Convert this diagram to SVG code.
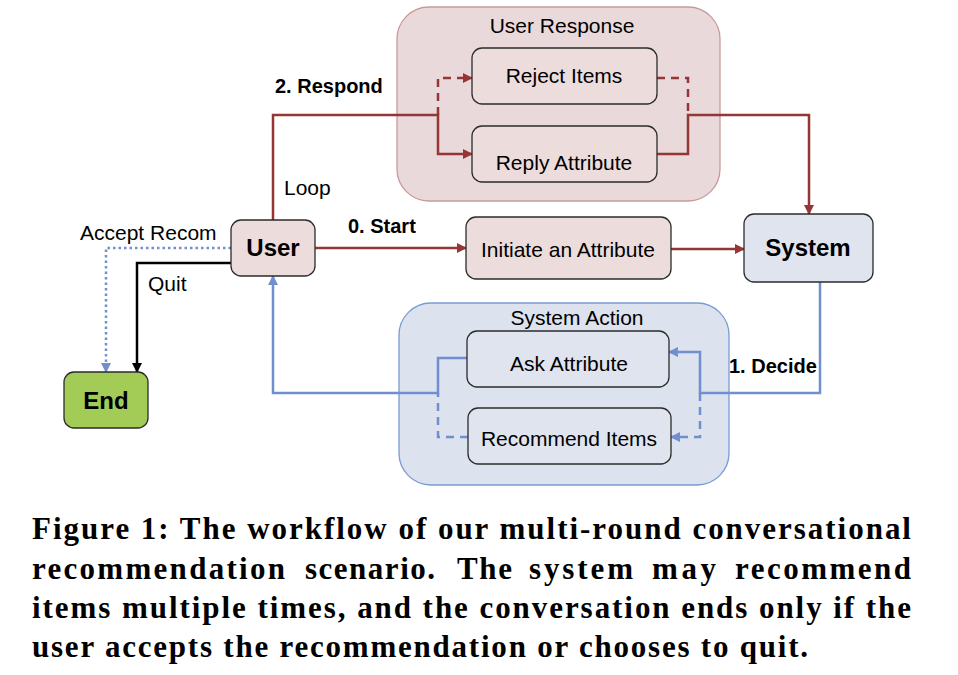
<svg xmlns="http://www.w3.org/2000/svg" width="958" height="675" viewBox="0 0 958 675">
<style>
.t{font-family:"Liberation Sans",Arial,sans-serif;font-size:21px;fill:#000}
.b{font-family:"Liberation Sans",Arial,sans-serif;font-weight:bold;fill:#000}
.cap{font-family:"Liberation Serif","Times New Roman",serif;font-weight:bold;font-size:31px;fill:#000}
.rn{fill:#ecdcdc;stroke:#2b2b2b;stroke-width:1.3}
.bn{fill:#dfe4ef;stroke:#2b2b2b;stroke-width:1.3}
.m{fill:none;stroke:#943634;stroke-width:2.5}
.bl{fill:none;stroke:#6f8fcf;stroke-width:2.5}
.dash{stroke-dasharray:8,6}
</style>
<defs>
<marker id="am" markerUnits="userSpaceOnUse" markerWidth="10" markerHeight="10" refX="9" refY="5" orient="auto"><path d="M0,0 L10,5 L0,10 Z" fill="#943634"/></marker>
<marker id="ab" markerUnits="userSpaceOnUse" markerWidth="10" markerHeight="10" refX="9" refY="5" orient="auto"><path d="M0,0 L10,5 L0,10 Z" fill="#6f8fcf"/></marker>
<marker id="ak" markerUnits="userSpaceOnUse" markerWidth="10" markerHeight="10" refX="9" refY="5" orient="auto"><path d="M0,0 L10,5 L0,10 Z" fill="#000"/></marker>
</defs>
<rect width="958" height="675" fill="#fff"/>

<g id="user-response">
<rect x="397" y="7" width="323" height="194" rx="32" fill="#ead9da" stroke="#c99a9a" stroke-width="1.3"/>
<text class="t" x="562" y="33" text-anchor="middle">User Response</text>
</g>
<g id="system-action">
<rect x="399" y="303" width="330" height="182" rx="32" fill="#dce2ee" stroke="#7a9bd4" stroke-width="1.3"/>
<text class="t" x="577" y="325" text-anchor="middle">System Action</text>
</g>

<g id="connectors">
<path class="m" d="M315,248 H466" marker-end="url(#am)"/>
<path class="m" d="M671,249 H744" marker-end="url(#am)"/>
<path class="m" d="M273,220 V115 H438 V154 H472" marker-end="url(#am)"/>
<path class="m dash" d="M438,115 V78 H472" marker-end="url(#am)"/>
<path class="m dash" d="M657,78 H688 V115"/>
<path class="m" d="M657,154 H688 V115 H809 V214" marker-end="url(#am)"/>
<path class="bl" d="M820,282 V393 H700 V352 H669" marker-end="url(#ab)"/>
<path class="bl dash" d="M700,393 V437 H671" marker-end="url(#ab)"/>
<path class="bl" d="M467,358 H438 V393 H273 V276" marker-end="url(#ab)"/>
<path class="bl dash" d="M468,437 H438 V393"/>
<path fill="none" stroke="#6f8fcf" stroke-width="2.5" stroke-dasharray="2.5,3" d="M231,248 H106 V372" marker-end="url(#ab)"/>
<path fill="none" stroke="#000" stroke-width="2.5" d="M231,263 H137 V372" marker-end="url(#ak)"/>
</g>

<g id="reject-items">
<rect class="rn" x="472" y="48" width="185" height="56" rx="10"/>
<text class="t" x="564" y="83" text-anchor="middle">Reject Items</text>
</g>
<g id="reply-attribute">
<rect class="rn" x="472" y="126" width="185" height="56" rx="10"/>
<text class="t" x="564" y="170" text-anchor="middle">Reply Attribute</text>
</g>
<g id="user">
<rect class="rn" x="231" y="220" width="84" height="56" rx="10"/>
<text class="b" x="273" y="256" font-size="24" text-anchor="middle">User</text>
</g>
<g id="initiate">
<rect class="rn" x="466" y="217" width="205" height="62" rx="10"/>
<text class="t" x="568" y="257" text-anchor="middle">Initiate an Attribute</text>
</g>
<g id="system">
<rect class="bn" x="744" y="214" width="129" height="68" rx="10"/>
<text class="b" x="808" y="256" font-size="24" text-anchor="middle">System</text>
</g>
<g id="ask-attribute">
<rect class="bn" x="467" y="331" width="202" height="56" rx="10"/>
<text class="t" x="569" y="371" text-anchor="middle">Ask Attribute</text>
</g>
<g id="recommend-items">
<rect class="bn" x="468" y="408" width="203" height="56" rx="10"/>
<text class="t" x="569" y="446" text-anchor="middle">Recommend Items</text>
</g>
<g id="end">
<rect x="64" y="372" width="84" height="56" rx="10" fill="#a3cc57" stroke="#2b2b2b" stroke-width="1.3"/>
<text class="b" x="106" y="409" font-size="24" text-anchor="middle">End</text>
</g>

<g id="labels">
<text class="b" x="275" y="93" font-size="20">2. Respond</text>
<text class="t" x="284" y="195">Loop</text>
<text class="b" x="348" y="233" font-size="20">0. Start</text>
<text class="t" x="80" y="240">Accept Recom</text>
<text class="t" x="148" y="291">Quit</text>
<text class="b" x="729" y="373" font-size="20">1. Decide</text>
</g>

<g id="caption">
<text class="cap" x="32" y="539" textLength="879" lengthAdjust="spacing">Figure 1: The workflow of our multi-round conversational</text>
<text class="cap" y="579"><tspan x="32" textLength="253" lengthAdjust="spacing">recommendation</tspan> <tspan x="305" textLength="130" lengthAdjust="spacing">scenario.</tspan> <tspan x="457" textLength="55" lengthAdjust="spacing">The</tspan> <tspan x="529" textLength="104" lengthAdjust="spacing">system</tspan> <tspan x="652" textLength="64" lengthAdjust="spacing">may</tspan> <tspan x="735" textLength="176" lengthAdjust="spacing">recommend</tspan></text>
<text class="cap" x="32" y="618" textLength="879" lengthAdjust="spacing">items multiple times, and the conversation ends only if the</text>
<text class="cap" x="32" y="657" textLength="776" lengthAdjust="spacing">user accepts the recommendation or chooses to quit.</text>
</g>
</svg>
